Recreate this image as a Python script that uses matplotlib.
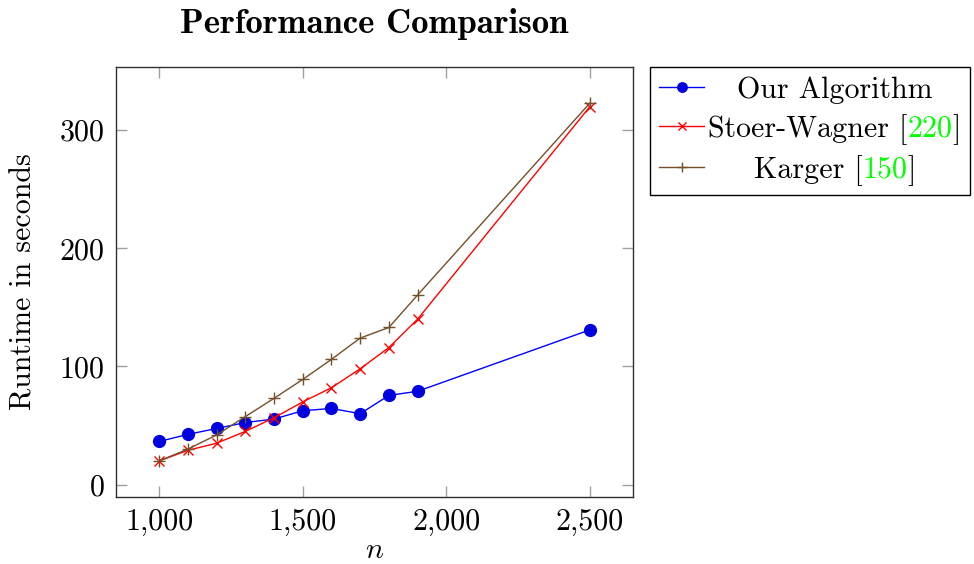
import matplotlib
matplotlib.use("Agg")
import matplotlib.pyplot as plt
from matplotlib.transforms import IdentityTransform

# ---- data ----
n_values = [1000, 1100, 1200, 1300, 1400, 1500, 1600, 1700, 1800, 1900, 2500]
our_algorithm = [36.5, 42.5, 47.5, 52.5, 55.5, 62.5, 64.5, 60, 75.5, 79, 131]
stoer_wagner = [20, 29, 35, 45, 56.5, 70, 82, 98, 116, 140, 320]
karger = [20, 30, 42, 57.5, 73, 89, 106, 124, 133, 160.5, 323]

series_labels = ["Our Algorithm", "Stoer-Wagner [220]", "Karger [150]"]
x_ticks = [1000, 1500, 2000, 2500]
x_tick_labels = ["1,000", "1,500", "2,000", "2,500"]
y_ticks = [0, 100, 200, 300]
y_tick_labels = ["0", "100", "200", "300"]
title = "Performance Comparison"
x_label = "$n$"
y_label = "Runtime in seconds"

plt.rcParams["font.family"] = "cmr10"
plt.rcParams["mathtext.fontset"] = "cm"
plt.rcParams["axes.formatter.use_mathtext"] = True

FS = 21.6
W, H = 974, 564
fig = plt.figure(figsize=(W / 100, H / 100), dpi=100)
ax = fig.add_axes([116 / W, 1 - 497 / H, (633 - 116) / W, (497 - 67) / H])

blue = "#0000ff"
red = "#ff0000"
brown = "#73502a"

ax.plot(n_values, our_algorithm, color=blue, lw=1.0, marker="o", ms=8.5,
        markerfacecolor="#0000e0", markeredgecolor="#0000e0", label=series_labels[0])
ax.plot(n_values, stoer_wagner, color=red, lw=1.0, marker="x", ms=7, mew=1.0,
        label=series_labels[1])
ax.plot(n_values, karger, color=brown, lw=1.0, marker="+", ms=9, mew=1.0,
        label=series_labels[2])

ax.set_xlim(850, 2650)
ax.set_ylim(-10.5, 353.5)
ax.set_xticks(x_ticks)
ax.set_xticklabels(x_tick_labels)
ax.set_yticks(y_ticks)
ax.set_yticklabels(y_tick_labels)
ax.tick_params(direction="in", length=8, width=1.0, color="#a0a0a0",
               top=True, right=True, labelsize=FS, pad=8)
for sp in ax.spines.values():
    sp.set_color("#303030")
    sp.set_linewidth(1.0)

ax.set_xlabel(x_label, fontsize=FS, labelpad=1)
ax.set_ylabel(y_label, fontsize=FS, labelpad=16)
fig.text(0.5 * (116 + 633) / W, 1 - 24 / H, title, ha="center", va="center",
         fontsize=25, family="cmb10")

leg = ax.legend(loc="upper left", bbox_to_anchor=(650 / W, 1 - 67 / H),
                bbox_transform=fig.transFigure, borderaxespad=0, fontsize=FS,
                frameon=True, fancybox=False, edgecolor="black", framealpha=1,
                handlelength=1.5, handletextpad=0.15, labelspacing=0.34,
                borderpad=0.3, markerscale=0.8)
leg.get_frame().set_linewidth(1.0)

# draw the legend labels with coloured citation numbers, centred in the column
fig.canvas.draw()
renderer = fig.canvas.get_renderer()
texts = leg.get_texts()
boxes = [t.get_window_extent(renderer) for t in texts]
col_x0 = min(b.x0 for b in boxes)
col_w = max(b.width for b in boxes)
for t, b in zip(texts, boxes):
    full = t.get_text()
    prop = t.get_fontproperties()
    _, _, d = renderer.get_text_width_height_descent(full, prop, ismath=False)
    _, _, dlp = renderer.get_text_width_height_descent("lp", prop, ismath=False)
    baseline = b.y0 + max(d, dlp)
    if "[" in full:
        pre, rest = full.split("[", 1)
        mid, post = rest.split("]", 1)
        pieces = [(pre + "[", "black"), (mid, "#00ff00"), ("]" + post, "black")]
    else:
        pieces = [(full, "black")]
    wfull = sum(renderer.get_text_width_height_descent(s, prop, ismath=False)[0]
                for s, _ in pieces)
    x = col_x0 + (col_w - wfull) / 2
    for s, c in pieces:
        fig.text(x, baseline, s, color=c, fontproperties=prop,
                 transform=IdentityTransform(), va="baseline", ha="left")
        x += renderer.get_text_width_height_descent(s, prop, ismath=False)[0]
    t.set_visible(False)

fig.savefig("out.png", dpi=100)
